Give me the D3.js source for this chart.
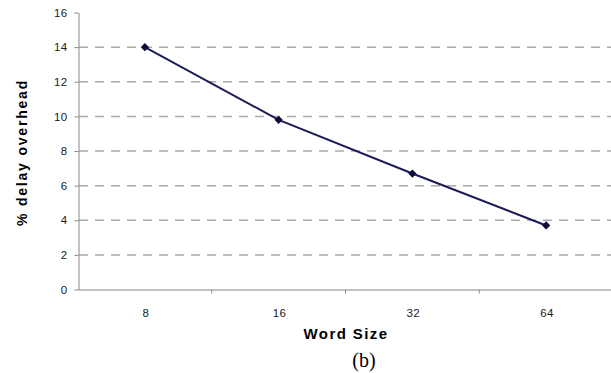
<!DOCTYPE html>
<html>
<head>
<meta charset="utf-8">
<script src="https://cdn.jsdelivr.net/npm/d3@7"></script>
<style>
  body { margin: 0; background: #fff; }
  svg { display: block; }
</style>
</head>
<body>
<div id="chart"></div>
<script>
// word sizes on the x axis and the measured delay overhead (%)
var wordSizes = ['8', '16', '32', '64'];
var overhead = [14.0, 9.8, 6.7, 3.7];
var yTicks = [0, 2, 4, 6, 8, 10, 12, 14, 16];
var gridTicks = [2, 4, 6, 8, 10, 12, 14];

var width = 611;
var height = 373;
var svg = d3.select('#chart').append('svg').attr('width', width).attr('height', height);

var x = d3.scaleBand().domain(wordSizes).range([78, 613]);
var y = d3.scaleLinear().domain([0, 16]).range([289.5, 12.5]);

// dashed gridlines
svg.append('g').selectAll('line').data(gridTicks).enter().append('line')
    .attr('x1', 79).attr('x2', width)
    .attr('y1', function(d) { return y(d); })
    .attr('y2', function(d) { return y(d); })
    .attr('stroke', '#aaa').attr('stroke-width', 1.5)
    .attr('stroke-dasharray', '9,7');

// y axis
var yAxis = svg.append('g').attr('transform', 'translate(78.5,0)')
    .call(d3.axisLeft(y).tickValues(yTicks).tickSize(4).tickPadding(7).tickSizeOuter(0));
yAxis.select('.domain').attr('stroke', '#888');
yAxis.selectAll('.tick line').attr('stroke', '#888');
yAxis.selectAll('text').attr('font-family', 'Liberation Sans, Arial, sans-serif')
    .attr('font-size', '11.5px').attr('letter-spacing', '0.4px').attr('fill', '#1a1a1a');

// x axis: labels at band centres, ticks at band boundaries
var xAxis = svg.append('g').attr('transform', 'translate(0,289.5)')
    .call(d3.axisBottom(x).tickSize(0).tickPadding(19).tickSizeOuter(0));
xAxis.select('.domain').attr('stroke', '#888');
xAxis.selectAll('text').attr('font-family', 'Liberation Sans, Arial, sans-serif')
    .attr('font-size', '11.5px').attr('letter-spacing', '0.4px').attr('fill', '#1a1a1a')
    .attr('dx', '1');
xAxis.append('g').selectAll('line').data(wordSizes.slice(1)).enter().append('line')
    .attr('x1', function(d) { return x(d); })
    .attr('x2', function(d) { return x(d); })
    .attr('y1', 0).attr('y2', 4)
    .attr('stroke', '#888');

// the line and its diamond markers
var line = d3.line()
    .x(function(d, i) { return x(wordSizes[i]) + x.bandwidth() / 2; })
    .y(function(d) { return y(d); });
svg.append('path').datum(overhead)
    .attr('d', line)
    .attr('fill', 'none').attr('stroke', '#1c1c5a').attr('stroke-width', 2);
svg.append('g').selectAll('path').data(overhead).enter().append('path')
    .attr('d', d3.symbol().type(d3.symbolSquare).size(34))
    .attr('transform', function(d, i) {
        return 'translate(' + (x(wordSizes[i]) + x.bandwidth() / 2) + ',' + y(d) + ') rotate(45)';
    })
    .attr('fill', '#0d0d3a');

// axis titles
svg.append('text').text('Word Size')
    .attr('x', 346).attr('y', 339).attr('text-anchor', 'middle')
    .attr('font-family', 'Liberation Sans, Arial, sans-serif')
    .attr('font-size', '15px').attr('font-weight', 'bold').attr('letter-spacing', '1.4px')
    .attr('fill', '#000');
svg.append('text').text('% delay overhead')
    .attr('transform', 'translate(27,152.5) rotate(-90)').attr('text-anchor', 'middle')
    .attr('font-family', 'Liberation Sans, Arial, sans-serif')
    .attr('font-size', '14px').attr('font-weight', 'bold').attr('letter-spacing', '1.8px')
    .attr('fill', '#000');

// caption
svg.append('text').text('(b)')
    .attr('x', 364).attr('y', 367).attr('text-anchor', 'middle')
    .attr('font-family', 'Liberation Serif, Times New Roman, serif')
    .attr('font-size', '20px').attr('fill', '#000');
</script>
</body>
</html>
